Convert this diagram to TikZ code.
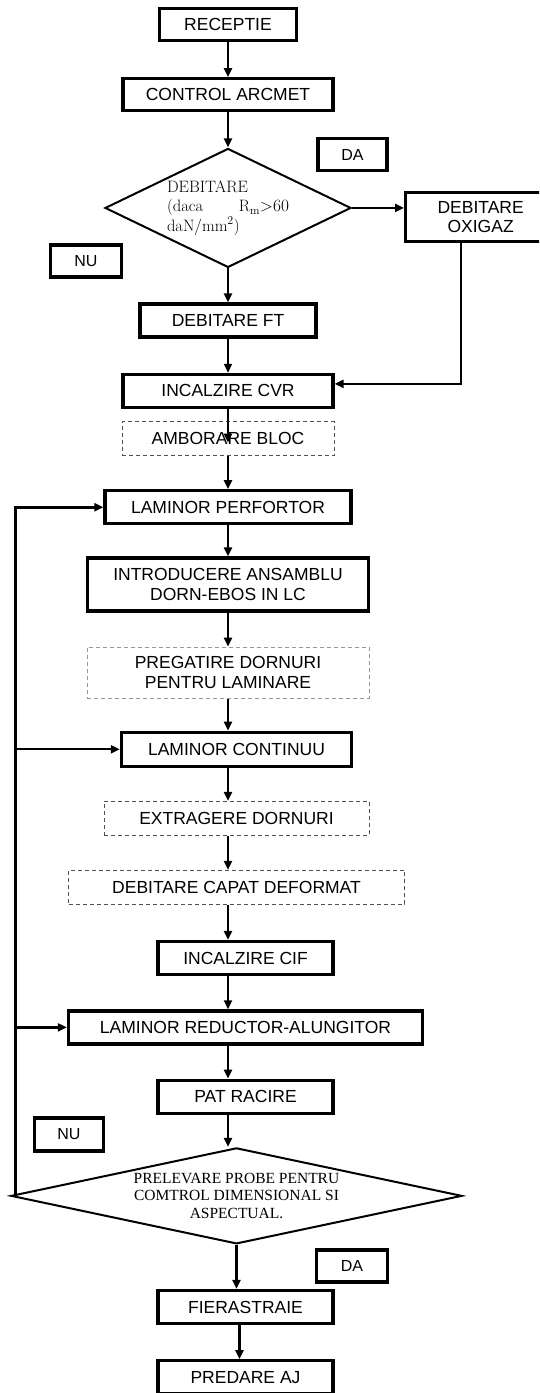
\documentclass[tikz,border=0pt]{standalone}
\usepackage{fontspec}
\newfontfamily\boxfont{Liberation Sans}
\newfontfamily\probefont{Liberation Serif}
\usepackage{tikz}
\usetikzlibrary{
  shapes.geometric,
  arrows.meta,
  positioning, calc
}
\definecolor{dashgray}{RGB}{80,80,80}
\definecolor{lightdash}{RGB}{150,150,150}
\tikzset{
  basebox/.style={rectangle,align=center,inner sep=0pt,font=\boxfont\fontsize{17.5}{20.5}\selectfont},
  procnode/.style={basebox,draw=black,line width=3.3pt,minimum height=33pt},
  dashnode/.style={basebox,draw=dashgray,line width=1pt,dash pattern=on 4pt off 3pt,minimum height=34pt},
  tagnode/.style={basebox,draw=black,line width=3.3pt,minimum width=69pt,minimum height=32pt,font=\boxfont\fontsize{16}{19}\selectfont},
  decnode/.style={diamond,draw=black,line width=2pt,inner sep=0pt},
  arr/.style={-{Triangle[length=9pt,width=8pt]},line width=2.2pt},
  backarr/.style={arr,line width=2.6pt}
}

\begin{document}
\begin{tikzpicture}[x=1pt,y=1pt,node distance=34pt]
  \useasboundingbox (0,0) rectangle (539,-1393);
  \clip (0,0) rectangle (539,-1393);

  %% main line
  \node[procnode,minimum width=137pt,minimum height=32pt] (rec) at (228,-24.5) {RECEPTIE};
  \node[procnode,minimum width=210pt,minimum height=32pt,below=35pt of rec] (ctrl) {CONTROL ARCMET};
  \node[decnode,aspect=2,minimum width=246pt,minimum height=119pt,below=35pt of ctrl,
        text width=122pt,align=left,font=\fontsize{16.5}{19.5}\selectfont] (dia1)
    {DEBITARE\\(daca\hfill $\mathrm{R_m}{>}60$\\daN/mm$^2$)};
  \node[procnode,minimum width=176pt,below=of dia1] (ft) {DEBITARE FT};
  \node[procnode,minimum width=210pt,below=of ft] (cvr) {INCALZIRE CVR};
  \node[dashnode,minimum width=212pt,below=12pt of cvr] (amb) {AMBORARE BLOC};
  \node[procnode,minimum width=246pt,below=33pt of amb] (perf) {LAMINOR PERFORTOR};
  \node[procnode,minimum width=281pt,minimum height=53pt,below=31pt of perf] (intro)
    {INTRODUCERE ANSAMBLU\\DORN-EBOS IN LC};
  \node[dashnode,draw=lightdash,minimum width=282pt,minimum height=51pt,below=of intro] (preg)
    {PREGATIRE DORNURI\\PENTRU LAMINARE};
  \node[procnode,minimum width=230pt,minimum height=34pt,below=32pt of preg,xshift=8.5pt] (cont) {LAMINOR CONTINUU};
  \node[dashnode,minimum width=265pt,below=33pt of cont] (extr) {EXTRAGERE DORNURI};
  \node[dashnode,minimum width=336pt,below=of extr] (capat) {DEBITARE CAPAT DEFORMAT};
  \node[procnode,minimum width=175pt,below=35pt of capat,xshift=9pt] (cif) {INCALZIRE CIF};
  \node[procnode,minimum width=354pt,below=33pt of cif] (red) {LAMINOR REDUCTOR-ALUNGITOR};
  \node[procnode,minimum width=175pt,below=33pt of red] (pat) {PAT RACIRE};
  \node[decnode,aspect=4.6,minimum width=451pt,minimum height=96pt,below=32pt of pat,xshift=-9pt,
        font=\probefont\fontsize{15.5}{17.5}\selectfont,align=center] (dia2)
    {PRELEVARE PROBE PENTRU\\COMTROL DIMENSIONAL SI\\ASPECTUAL.};
  \node[procnode,minimum width=175pt,below=44pt of dia2,xshift=9pt] (fier) {FIERASTRAIE};
  \node[procnode,minimum width=175pt,below=of fier] (pred) {PREDARE AJ};

  %% side branch
  \node[procnode,minimum width=150pt,minimum height=49pt,right=52pt of dia1,yshift=-9pt,
        font=\boxfont\fontsize{17.5}{18.5}\selectfont] (oxi) {DEBITARE\\OXIGAZ};

  %% answers
  \node[tagnode] (da1) at (352.5,-154.5) {DA};
  \node[tagnode,minimum width=71pt] (nu1) at (86,-261) {NU};
  \node[tagnode,minimum height=33pt] (nu2) at (69,-1134.5) {NU};
  \node[tagnode,minimum width=71pt] (da2) at (352,-1266) {DA};

  \draw[arr] (rec) -- (ctrl);
  \draw[arr] (ctrl) -- (dia1);
  \draw[arr] (dia1) -- (ft);
  \draw[arr] (ft) -- (cvr);
  \draw[arr] (cvr.south) -- ([yshift=-4pt]amb.center);
  \draw[arr] (amb) -- (perf);
  \draw[arr] (perf) -- (intro);
  \draw[arr] (intro) -- (preg);
  \draw[arr] (preg.south) -- (preg.south |- cont.north);
  \draw[arr] (cont.south -| dia1) -- (extr.north -| dia1);
  \draw[arr] (extr.south -| dia1) -- (capat.north -| dia1);
  \draw[arr] (capat.south -| dia1) -- (cif.north -| dia1);
  \draw[arr] (cif.south -| dia1) -- (red.north -| dia1);
  \draw[arr] (red.south -| dia1) -- (pat.north -| dia1);
  \draw[arr] (pat.south -| dia1) -- (dia2.north -| dia1);
  \draw[arr] (dia2.south) -- (dia2.south |- fier.north);
  \draw[arr] ([xshift=-6pt]fier.south) -- ([xshift=-6pt]pred.north);

  \draw[arr] (dia1.east) -- (dia1.east -| oxi.west);
  \draw[arr] ([xshift=-20pt]oxi.south) |- ([yshift=7pt]cvr.east);

  %% return loop
  \coordinate (fb) at ([xshift=5.5pt]dia2.west);
  \draw[backarr] (fb) |- (perf.west);
  \draw[arr] (fb |- cont.west) -- (cont.west);
  \draw[arr] (fb |- red.west) -- (red.west);
\end{tikzpicture}
\end{document}
